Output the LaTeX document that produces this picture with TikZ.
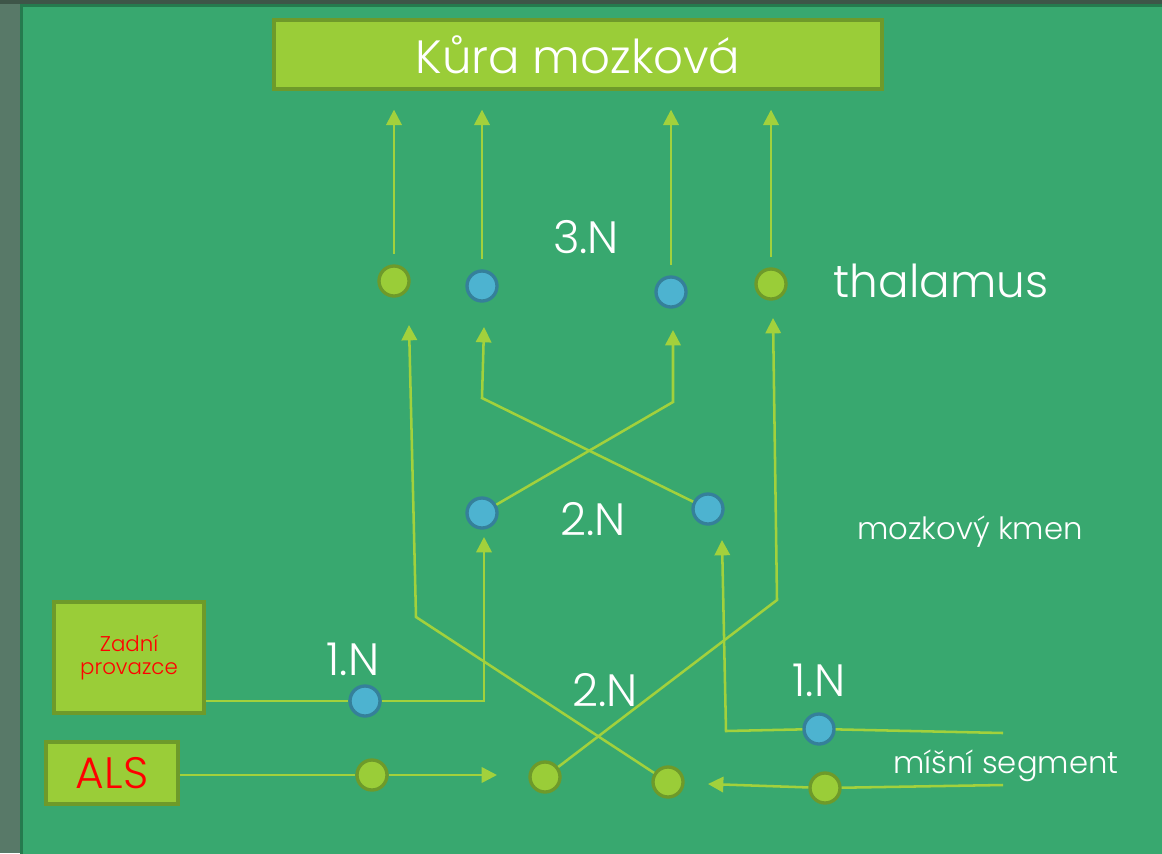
\documentclass[tikz,border=0pt]{standalone}
\usepackage{fontspec}
\setmainfont{Poppins}[UprightFont=* Light]
\usetikzlibrary{arrows.meta}

\definecolor{leaf}{HTML}{9ACD38}
\definecolor{olive}{HTML}{6E9A2A}
\definecolor{sky}{HTML}{4DB3D0}
\definecolor{deepsky}{HTML}{35809A}
\definecolor{panel}{HTML}{38A86F}
\definecolor{panelrim}{HTML}{257A4E}
\definecolor{slate}{HTML}{587968}
\definecolor{slatetop}{HTML}{3E5548}
\definecolor{wire}{HTML}{A2D13C}

\begin{document}
\begin{tikzpicture}[
    x=0.75pt, y=-0.75pt,
    gnode/.style={circle, draw=olive, fill=leaf, line width=2.5pt, minimum size=22.5pt, inner sep=0pt},
    bnode/.style={circle, draw=deepsky, fill=sky, line width=2.5pt, minimum size=22.5pt, inner sep=0pt},
    box/.style={rectangle, draw=olive, fill=leaf, line width=3pt, inner sep=0pt, align=center},
    link/.style={draw=wire, line width=1.9pt},
    uparrow/.style={link, -{Triangle[width=11.5pt,length=11.5pt]}},
    bigtext/.style={text=white, anchor=base, font=\fontsize{34}{40}\selectfont},
    smalltext/.style={text=white, anchor=base, font=\fontsize{23}{28}\selectfont}
]
    % Background
    \useasboundingbox (0,0) rectangle (1162,853);
    \fill[slate] (0,0) rectangle (1162,853);
    \fill[slatetop] (0,0) rectangle (1162,4);
    \draw[panelrim, fill=panel, line width=2.25pt] (21.5,5.5) rectangle (1175,865);

    % Boxes
    \node[box, minimum width=456pt, minimum height=51.75pt, text=white, font=\fontsize{35}{40}\selectfont] (kura) at (578,54.5) {Kůra mozková};
    \node[box, minimum width=112.5pt, minimum height=83.25pt, text=red, font=\fontsize{16}{17}\selectfont] (zp) at (129,657.5) {Zadní\\provazce};
    \node[box, minimum width=99pt, minimum height=46.5pt, text=red, font=\fontsize{33}{38}\selectfont] (als) at (112,773) {ALS};

    % Neurons: thalamus
    \node[gnode] (th1) at (394,281) {};
    \node[bnode] (th2) at (482,286) {};
    \node[bnode] (th3) at (671,292) {};
    \node[gnode] (th4) at (771,284) {};

    % Neurons: brain stem
    \node[bnode] (ms1) at (482,513) {};
    \node[bnode] (ms2) at (708,509) {};

    % Neurons: spinal segment
    \node[bnode] (zp1) at (365,701) {};
    \node[gnode] (als1) at (372,775) {};
    \node[gnode] (b1) at (545,777) {};
    \node[gnode] (b2) at (668,782) {};
    \node[bnode] (sp1) at (819,729) {};
    \node[gnode] (sp2) at (825,788) {};

    % Bend points
    \coordinate (c1) at (416,617);
    \coordinate (c1t) at (409,325);
    \coordinate (c2) at (482,398);
    \coordinate (c2t) at (484,327);
    \coordinate (c3) at (673,402);
    \coordinate (c3t) at (673,330);
    \coordinate (c4) at (777,600);
    \coordinate (c4t) at (773,318);
    \coordinate (c5) at (484,701);
    \coordinate (c5t) at (484,537);
    \coordinate (c6) at (497,775);
    \coordinate (s1) at (1003,733);
    \coordinate (c8) at (726,731);
    \coordinate (c8t) at (722,540);
    \coordinate (s2) at (1003,785);
    \coordinate (c9) at (708,784);

    % Labels
    \node[bigtext] (n3) at (586,253) {3.N};
    \node[bigtext] (thal) at (941,297) {thalamus};
    \node[bigtext] (n2a) at (593,535) {2.N};
    \node[smalltext] (kmen) at (970,539) {mozkový kmen};
    \node[bigtext] (n1a) at (353,675) {1.N};
    \node[bigtext] (n2b) at (605,706) {2.N};
    \node[bigtext] (n1b) at (819,696) {1.N};
    \node[smalltext] (seg) at (1006,773) {míšní segment};

    % Arrows to cortex
    \foreach \t in {th1, th2, th3, th4}
        \draw[uparrow, shorten <=8pt, shorten >=14pt] (\t) -- (\t |- kura.south);

    % Arrows to thalamus
    \draw[uparrow] (b2) -- (c1) -- (c1t);
    \draw[uparrow] (ms2) -- (c2) -- (c2t);
    \draw[uparrow] (ms1) -- (c3) -- (c3t);
    \draw[uparrow] (b1) -- (c4) -- (c4t);

    % Arrows to brain stem
    \path[link] (zp.east |- zp1) -- (zp1);
    \draw[uparrow] (zp1) -- (c5) -- (c5t);
    \path[link] (s1) -- (sp1);
    \draw[uparrow] (sp1) -- (c8) -- (c8t);

    % Spinal inputs
    \path[link] (als.east |- als1) -- (als1);
    \draw[uparrow] (als1) -- (c6);
    \path[link] (s2) -- (sp2);
    \draw[uparrow] (sp2) -- (c9);

\end{tikzpicture}
\end{document}
